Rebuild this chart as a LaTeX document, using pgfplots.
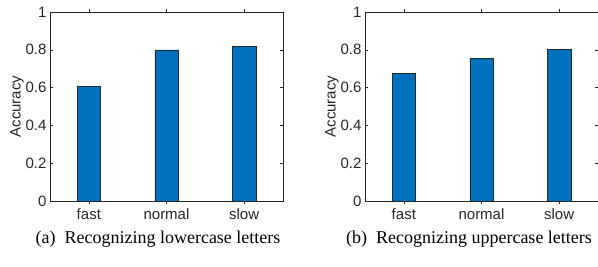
\documentclass[border=0pt]{standalone}
\usepackage{pgfplots}
\pgfplotsset{compat=1.18}
\usepackage{fontspec}
\setmainfont{Liberation Serif}
\setsansfont{Liberation Sans}
\definecolor{mblue}{RGB}{0,114,189}
\definecolor{axgray}{RGB}{38,38,38}
\pgfplotsset{
  myax/.style={
    scale only axis, width=233pt, height=189pt,
    xmin=0.5, xmax=3.5, ymin=0, ymax=1,
    xtick={1,2,3}, xticklabels={fast,normal,slow},
    ytick={0,0.2,0.4,0.6,0.8,1},
    yticklabels={0,0.2,0.4,0.6,0.8,1},
    tick align=inside, tick pos=both,
    major tick length=3pt,
    axis line style={axgray, line width=0.5pt},
    every tick/.style={axgray, line width=0.5pt},
    tick label style={font=\sffamily\fontsize{15}{15}\selectfont, text=axgray},
    ylabel={Accuracy},
    ylabel style={font=\sffamily\fontsize{15}{15}\selectfont, text=axgray},
    ylabel shift=-5pt,
    xticklabel style={yshift=-1pt},
    ybar, bar width=0.3,
    clip=false,
  }
}
\begin{document}
\begin{tikzpicture}
\path[use as bounding box] (-50pt,-65pt) rectangle (548pt,201pt);
\begin{axis}[myax, at={(0pt,0pt)}, anchor=south west]
\addplot[fill=mblue, draw=axgray, line width=0.5pt] coordinates {(1,0.607) (2,0.799) (3,0.818)};
\end{axis}
\begin{axis}[myax, at={(315pt,0pt)}, anchor=south west]
\addplot[fill=mblue, draw=axgray, line width=0.5pt] coordinates {(1,0.674) (2,0.753) (3,0.803)};
\end{axis}
\node[font=\fontsize{18}{18}\selectfont] at (108pt,-38pt) {(a)\ \ Recognizing lowercase letters};
\node[font=\fontsize{18}{18}\selectfont] at (419pt,-38pt) {(b)\ \ Recognizing uppercase letters};
\end{tikzpicture}
\end{document}
